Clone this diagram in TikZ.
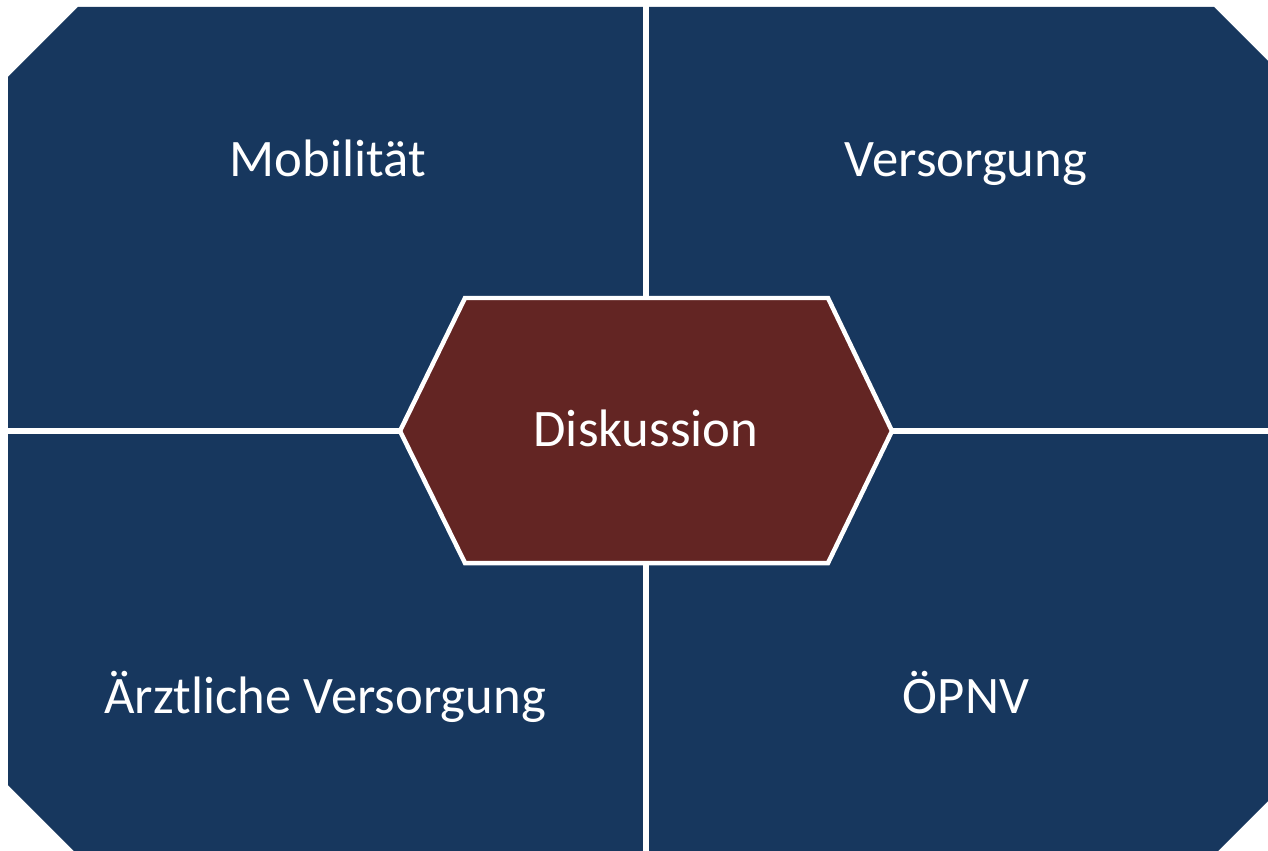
\documentclass[tikz,border=0pt]{standalone}
\usepackage{fontspec}
\setmainfont{Carlito}
\definecolor{fieldblue}{HTML}{17375E}
\definecolor{centerred}{HTML}{632523}

\begin{document}
\begin{tikzpicture}[x=0.02cm, y=-0.02cm,
    fieldlabel/.style={text=white, anchor=base, inner sep=0pt, font=\fontsize{30}{36}\selectfont},
    divider/.style={white, line width=0.12cm}]

    % Fix the page to the size of the reference
    \useasboundingbox (0,0) rectangle (1268,851);
    \clip (0,0) rectangle (1268,851);

    % Blue box with cut corners (runs over the right and bottom edge)
    \fill[fieldblue] (78,7) -- (1214,7) -- (1284,77) -- (1284,785) -- (1214,855)
        -- (78,855) -- (8,785) -- (8,77) -- cycle;

    % White lines splitting the box into four fields
    \draw[divider] (646,0) -- (646,851);
    \draw[divider] (0,431) -- (1268,431);

    % Hexagon in the middle
    \draw[white, line width=0.09cm, fill=centerred, line join=miter]
        (465,298) -- (828,298) -- (892,431) -- (828,563) -- (465,563) -- (400,431) -- cycle;

    % Labels of the fields
    \node[fieldlabel] (mobil) at (328,177) {Mobilität};
    \node[fieldlabel] (versorg) at (966,177) {Versorgung};
    \node[fieldlabel] (arzt) at (325,713) {Ärztliche Versorgung};
    \node[fieldlabel] (oepnv) at (966,713) {ÖPNV};
    \node[fieldlabel] (disk) at (646,446) {Diskussion};

\end{tikzpicture}
\end{document}
